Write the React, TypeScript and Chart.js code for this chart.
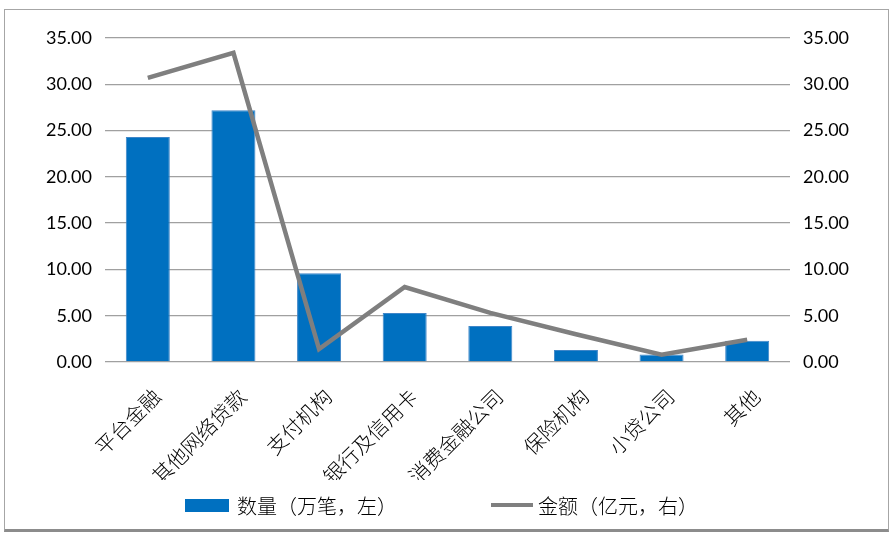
import React, { useEffect, useRef } from "react";
import { Chart, registerables } from "chart.js";

Chart.register(...registerables);

const categories = ["平台金融", "其他网络贷款", "支付机构", "银行及信用卡", "消费金融公司", "保险机构", "小贷公司", "其他"];
const countValues = [24.3, 27.2, 9.6, 5.3, 3.9, 1.3, 0.8, 2.3];
const amountValues = [30.7, 33.4, 1.4, 8.1, 5.3, 3.0, 0.8, 2.4];
const countLabel = "数量（万笔，左）";
const amountLabel = "金额（亿元，右）";

const BLUE = "#0070c0";
const GRAY = "#7f7f7f";
const NUM_FONT = "Lato, 'Open Sans', sans-serif";
const CJK_FONT = "'Noto Sans CJK SC', sans-serif";

export default function App() {
  const canvasRef = useRef<HTMLCanvasElement | null>(null);

  useEffect(() => {
    if (!canvasRef.current) return;
    const chart = new Chart(canvasRef.current, {
      type: "bar",
      data: {
        labels: categories,
        datasets: [
          {
            type: "line",
            label: amountLabel,
            data: amountValues,
            borderColor: GRAY,
            borderWidth: 4.5,
            pointRadius: 0,
            tension: 0,
            yAxisID: "y1",
            order: 0,
          },
          {
            type: "bar",
            label: countLabel,
            data: countValues,
            backgroundColor: BLUE,
            borderColor: "#3f86c8",
            borderWidth: 1,
            categoryPercentage: 1,
            barPercentage: 0.514,
            yAxisID: "y",
            order: 1,
          },
        ],
      },
      options: {
        animation: false,
        responsive: false,
        layout: { padding: { top: 38, bottom: 54, left: 0, right: 0 } },
        plugins: { legend: { display: false }, tooltip: { enabled: false } },
        scales: {
          x: {
            grid: { display: false },
            border: { display: false },
            ticks: {
              color: "#000",
              font: { family: CJK_FONT, size: 20.5, weight: "300" },
              minRotation: 45,
              maxRotation: 45,
              padding: 14,
              labelOffset: 9,
              autoSkip: false,
            },
            afterFit: (s: any) => {
              s.height = 118;
            },
          },
          y: {
            position: "left",
            min: 0,
            max: 35,
            ticks: {
              stepSize: 5,
              color: "#000",
              font: { family: NUM_FONT, size: 18 },
              padding: 13,
              callback: (v: any) => Number(v).toFixed(2),
            },
            grid: { color: "#a0a0a0", lineWidth: 1.3, drawTicks: false },
            border: { display: false },
            afterFit: (s: any) => {
              s.width = 105;
            },
          },
          y1: {
            position: "right",
            min: 0,
            max: 35,
            ticks: {
              stepSize: 5,
              color: "#000",
              font: { family: NUM_FONT, size: 18 },
              padding: 13,
              callback: (v: any) => Number(v).toFixed(2),
            },
            grid: { display: false, drawTicks: false },
            border: { display: false },
            afterFit: (s: any) => {
              s.width = 103;
            },
          },
        },
      },
    });
    return () => chart.destroy();
  }, []);

  return (
    <div style={{ position: "absolute", left: 0, top: 0, width: 893, height: 534, background: "#fff" }}>
      <div
        style={{
          position: "absolute",
          left: 4,
          top: 9,
          width: 883,
          height: 519,
          borderLeft: "1.5px solid #a6a6a6",
          borderRight: "1.5px solid #a6a6a6",
          borderTop: "1.5px solid #a6a6a6",
          borderBottom: "3px solid #8c8c8c",
        }}
      />
      <canvas ref={canvasRef} width={893} height={534} style={{ position: "absolute", left: 0, top: 0 }} />
      <div
        style={{
          position: "absolute",
          top: 492,
          left: 185,
          height: 26,
          display: "flex",
          alignItems: "center",
          fontFamily: CJK_FONT,
          fontWeight: 300,
          fontSize: 20,
          color: "#000",
          whiteSpace: "nowrap",
        }}
      >
        <span style={{ display: "inline-block", width: 44, height: 13, background: BLUE, marginRight: 8 }} />
        <span>{countLabel}</span>
        <span style={{ display: "inline-block", width: 42, height: 4.5, background: GRAY, marginLeft: 94, marginRight: 5 }} />
        <span>{amountLabel}</span>
      </div>
    </div>
  );
}
